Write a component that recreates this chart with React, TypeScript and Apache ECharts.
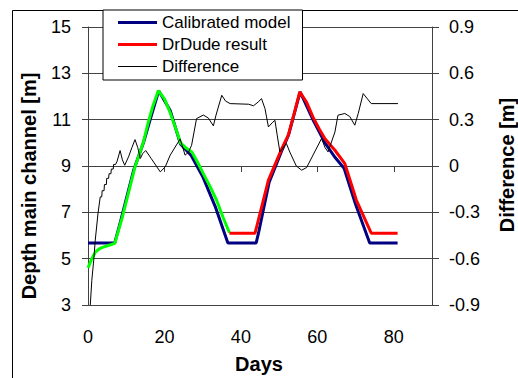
import { useEffect, useRef } from "react";
import * as echarts from "echarts";

const calibratedDays = [0, 7, 8.5, 12, 14.5, 16, 18.5, 21.5, 24.2, 27, 30, 33.4, 36.6, 44, 44.6, 47.4, 50.8, 52.5, 55.5, 59, 62, 64.5, 67, 70, 73.7, 81];
const calibratedDepth = [5.68, 5.68, 6.6, 8.85, 10.0, 10.85, 12.25, 11.4, 9.95, 9.45, 8.55, 7.2, 5.68, 5.68, 6.1, 8.3, 9.7, 10.35, 12.2, 10.95, 10.0, 9.4, 8.9, 7.35, 5.68, 5.68];

const drDudeFirstDays = [0, 1, 2, 3, 4, 5.5, 7, 9, 12.3, 14.5, 15.8, 17, 18.4, 20, 21.5, 23, 24.2, 25.5, 27.2, 28.7, 30.2, 32, 33.7, 35.3, 37];
const drDudeFirstDepth = [4.6, 5.0, 5.3, 5.43, 5.5, 5.58, 5.66, 6.8, 8.96, 10.04, 10.9, 11.6, 12.25, 11.9, 11.3, 10.6, 10.0, 9.8, 9.6, 9.15, 8.66, 8.1, 7.5, 6.8, 6.12];

const drDudeDays = [37, 43.7, 47.2, 50.7, 52.4, 54, 55.4, 57.2, 58.9, 60.5, 62, 64.6, 67.2, 70.2, 74.1, 81];
const drDudeDepth = [6.1, 6.1, 8.39, 9.75, 10.33, 11.3, 12.2, 11.75, 11.1, 10.6, 10.18, 9.68, 9.1, 7.53, 6.1, 6.1];

const differenceDays = [0.6, 1.0, 1.5, 1.9, 2.6, 3.2, 3.6, 3.7, 4.2, 4.3, 4.8, 4.9, 5.4, 5.5, 6.0, 6.1, 6.6, 6.7, 7.2, 7.6, 8.4, 9.0, 9.6, 10.6, 11.5, 12.3, 13.0, 13.7, 14.3, 15.1, 16.5, 18.9, 20.2, 21.5, 24.1, 24.8, 25.4, 26.3, 27.1, 28.4, 30.2, 31.5, 32.8, 33.5, 35, 36, 37.2, 42, 43.3, 44.5, 45.4, 46.3, 47.2, 48.2, 48.9, 49.5, 50.2, 51.9, 52.8, 54.5, 55.9, 57.2, 61.1, 62, 62.8, 64.6, 65.4, 67.2, 68.5, 69.8, 70.7, 72, 74.1, 81.1];
const differenceValue = [-0.9, -0.74, -0.61, -0.48, -0.31, -0.2, -0.2, -0.16, -0.16, -0.12, -0.12, -0.08, -0.08, -0.05, -0.05, -0.02, -0.02, 0.01, 0.01, 0.03, 0.1, 0.04, 0.005, 0.059, 0.12, 0.171, 0.12, 0.049, 0.08, 0.1, 0.05, -0.038, -0.006, 0.07, 0.175, 0.12, 0.07, 0.09, 0.134, 0.307, 0.33, 0.31, 0.26, 0.33, 0.458, 0.42, 0.404, 0.4, 0.39, 0.414, 0.436, 0.372, 0.253, 0.28, 0.296, 0.2, 0.091, 0.146, 0.09, 0.0, -0.027, -0.01, 0.178, 0.12, 0.091, 0.22, 0.329, 0.34, 0.32, 0.264, 0.34, 0.469, 0.404, 0.404];

const legendNames = ["Calibrated model", "DrDude result", "Difference"];

const pairs = (xs: number[], ys: number[]) => xs.map((x, i) => [x, ys[i]]);

const FONT = "Liberation Sans, Arial, sans-serif";

// legend icons: bounding box 39x14, visible bar in the middle
const thickIcon = "path://M0,0L39,0L39,0Z M0,5.5L39,5.5L39,8.5L0,8.5Z M0,14L39,14L39,14Z";
const thinIcon = "path://M0,0L39,0L39,0Z M0,6.5L39,6.5L39,7.5L0,7.5Z M0,14L39,14L39,14Z";

export default function App() {
  const ref = useRef<HTMLDivElement>(null);
  useEffect(() => {
    const chart = echarts.init(ref.current!, null, { renderer: "svg" });
    const axisLine = { show: true, lineStyle: { color: "#404040", width: 1 } };
    chart.setOption({
      animation: false,
      backgroundColor: "#fff",
      grid: { left: 88, right: 86, top: 27, bottom: 73 },
      legend: {
        data: [
          { name: legendNames[0], icon: thickIcon, itemStyle: { color: "#000080" } },
          { name: legendNames[1], icon: thickIcon, itemStyle: { color: "#ff0000" } },
          { name: legendNames[2], icon: thinIcon, itemStyle: { color: "#000" } },
        ],
        orient: "vertical",
        left: 103,
        top: 10,
        padding: [4, 12, 5, 15],
        itemGap: 5,
        itemWidth: 39,
        itemHeight: 14,
        backgroundColor: "#fff",
        borderColor: "#000",
        borderWidth: 1,
        borderRadius: 0,
        selectedMode: false,
        textStyle: { fontFamily: FONT, fontSize: 17, color: "#000" },
      },
      xAxis: {
        type: "value",
        min: 0,
        max: 90,
        interval: 20,
        axisLine,
        axisTick: { show: true, length: 6, lineStyle: { color: "#404040" } },
        splitLine: { show: false },
        axisLabel: { fontFamily: FONT, fontSize: 18, color: "#000", margin: 23, showMaxLabel: false },
      },
      yAxis: [
        {
          type: "value",
          min: 3,
          max: 15,
          interval: 2,
          axisLine,
          axisTick: { show: true, length: 6, lineStyle: { color: "#404040" } },
          splitLine: { show: true, lineStyle: { color: "#444", width: 1 } },
          axisLabel: { fontFamily: FONT, fontSize: 18, color: "#000", margin: 17 },
        },
        {
          type: "value",
          min: -0.9,
          max: 0.9,
          interval: 0.3,
          position: "right",
          axisLine,
          axisTick: { show: true, length: 7, lineStyle: { color: "#404040" } },
          splitLine: { show: false },
          axisLabel: { fontFamily: FONT, fontSize: 18, color: "#000", margin: 17 },
        },
      ],
      graphic: [
        {
          type: "rect",
          shape: { x: 12.5, y: 10.5, width: 520, height: 380 },
          style: { fill: "none", stroke: "#000", lineWidth: 1 },
          z: -1,
          silent: true,
        },
        {
          type: "text",
          x: 29,
          y: 186,
          rotation: Math.PI / 2,
          style: { text: "Depth main channel [m]", font: `bold 20px ${FONT}`, fill: "#000", align: "center", verticalAlign: "middle" },
        },
        {
          type: "text",
          x: 507,
          y: 165,
          rotation: Math.PI / 2,
          style: { text: "Difference [m]", font: `bold 20px ${FONT}`, fill: "#000", align: "center", verticalAlign: "middle" },
        },
        {
          type: "text",
          x: 259,
          y: 364,
          style: { text: "Days", font: `bold 20px ${FONT}`, fill: "#000", align: "center", verticalAlign: "middle" },
        },
      ],
      series: [
        {
          name: "Calibrated model",
          type: "line",
          data: pairs(calibratedDays, calibratedDepth),
          symbol: "none",
          lineStyle: { color: "#000080", width: 3 },
          itemStyle: { color: "#000080" },
        },
        {
          name: "DrDude result (first period)",
          type: "line",
          data: pairs(drDudeFirstDays, drDudeFirstDepth),
          symbol: "none",
          lineStyle: { color: "#00ff00", width: 3 },
          itemStyle: { color: "#00ff00" },
        },
        {
          name: "DrDude result",
          type: "line",
          data: pairs(drDudeDays, drDudeDepth),
          symbol: "none",
          lineStyle: { color: "#ff0000", width: 3 },
          itemStyle: { color: "#ff0000" },
        },
        {
          name: "Difference",
          type: "line",
          yAxisIndex: 1,
          data: pairs(differenceDays, differenceValue),
          symbol: "none",
          lineStyle: { color: "#000", width: 1 },
          itemStyle: { color: "#000" },
        },
      ],
    });
    return () => chart.dispose();
  }, []);
  return <div ref={ref} style={{ position: "fixed", left: 0, top: 0, width: 518, height: 378, background: "#fff" }} />;
}
